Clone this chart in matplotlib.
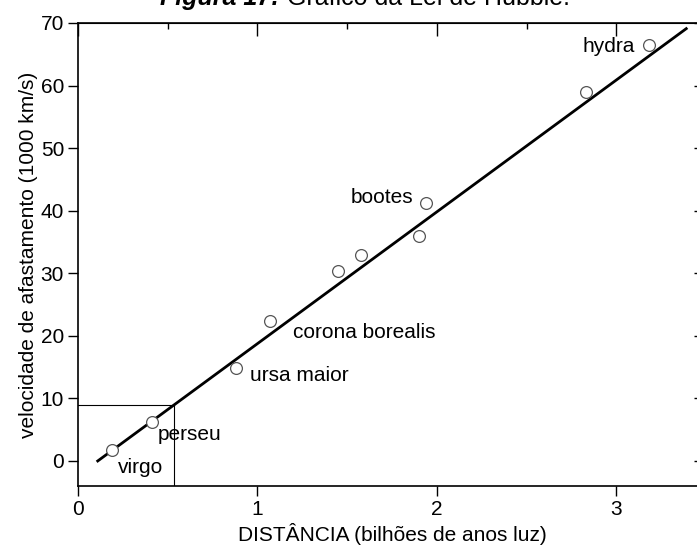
import matplotlib
matplotlib.use("Agg")
import matplotlib.pyplot as plt
from matplotlib.ticker import MultipleLocator

plt.rcParams['font.family'] = ['Liberation Sans', 'DejaVu Sans']

# data
dist = [0.19, 0.41, 0.88, 1.07, 1.45, 1.58, 1.90, 1.94, 2.83, 3.18]
vel = [1.75, 6.2, 14.8, 22.3, 30.3, 32.9, 35.9, 41.3, 59.0, 66.5]
fit_x = [0.11, 3.39]
fit_y = [0.0, 69.1]
box_x = 0.535
box_y = 9.0
labels = ["virgo", "perseu", "ursa maior", "corona borealis", "bootes", "hydra"]
label_x = [0.22, 0.445, 0.96, 1.20, 1.52, 2.81]
label_y = [-1.1, 4.3, 13.6, 20.6, 42.1, 66.3]

W, H = 697, 547
fig = plt.figure(figsize=(W/100, H/100), dpi=100)
left, right, top, bottom = 78, 706, 23, 486
ax = fig.add_axes([left/W, (H-bottom)/H, (right-left)/W, (bottom-top)/H])

ax.plot(fit_x, fit_y, color='black', lw=2)
ax.plot([0, box_x], [box_y, box_y], color='black', lw=0.8)
ax.plot([box_x, box_x], [-4, box_y], color='black', lw=0.8)
ax.plot(dist, vel, 'o', mfc='white', mec='#555555', mew=0.9, ms=8.5, ls='none')

for t, x, y in zip(labels, label_x, label_y):
    ax.text(x, y, t, fontsize=15, va='center', ha='left')

ax.set_xlim(0, 3.5)
ax.set_ylim(-4, 70)
ax.xaxis.set_major_locator(MultipleLocator(1))
ax.yaxis.set_major_locator(MultipleLocator(10))
ax.tick_params(axis='both', which='major', labelsize=15, direction='out', length=7, width=1, pad=3)
ax.tick_params(top=False, right=False)

axt = ax.secondary_xaxis('top')
axt.xaxis.set_major_locator(MultipleLocator(1))
axt.xaxis.set_minor_locator(MultipleLocator(0.5))
axt.tick_params(which='major', direction='in', length=9, width=1, labeltop=False)
axt.tick_params(which='minor', direction='in', length=4, width=1)
axt.set_xticklabels([])
axr = ax.secondary_yaxis('right')
axr.yaxis.set_major_locator(MultipleLocator(10))
axr.yaxis.set_minor_locator(MultipleLocator(5))
axr.tick_params(which='major', direction='in', length=9, width=1)
axr.tick_params(which='minor', direction='in', length=4, width=1)
axr.set_yticklabels([])

for s in ax.spines.values():
    s.set_linewidth(1.2)

ax.set_xlabel("DISTÂNCIA (bilhões de anos luz)", fontsize=15, labelpad=3)
ax.set_ylabel("velocidade de afastamento (1000 km/s)", fontsize=15, labelpad=2)

ty = 1 - 5/H
fig.text(280/W, ty, "Figura 17:", ha='right', va='baseline',
         fontsize=18, fontweight='bold', fontstyle='italic')
fig.text(287/W, ty, "Gráfico da Lei de Hubble.", ha='left', va='baseline', fontsize=18)

fig.savefig("out.png", dpi=100)
